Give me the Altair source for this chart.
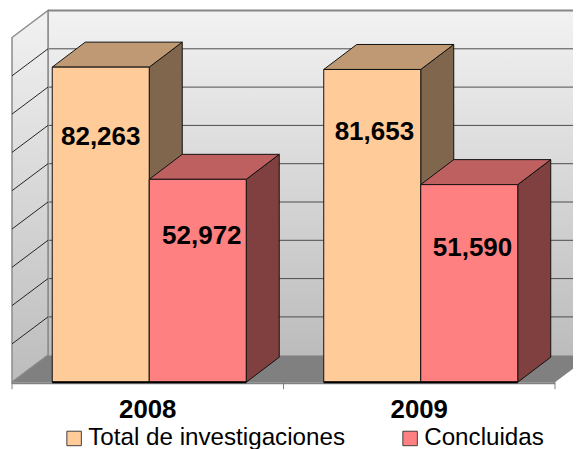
import altair as alt
import pandas as pd

years = ["2008", "2009"]
series = ["Total de investigaciones", "Concluidas"]
total_values = [82263, 81653]
concluded_values = [52972, 51590]
grid_values = [0, 10000, 20000, 30000, 40000, 50000, 60000, 70000, 80000, 90000]
# where each value label sits inside its bar, as share of bar height / shift in category units
label_height_share = {"2008": [0.778, 0.72], "2009": [0.80, 0.68]}
label_shift = {"2008": [0.0, 0.015], "2009": [0.008, 0.012]}

FONT = "Liberation Sans"
W, H = 565, 441
PX_U, PX_V = 271.5, 0.00383       # px per category, px per value
X0, Y0 = 4.0, 374.2               # plot position of the origin
xdom = [-X0 / PX_U, (W - X0) / PX_U]
ydom = [(Y0 - H) / PX_V, Y0 / PX_V]
WALL_DX, WALL_DY = 36 / PX_U, 27 / PX_V
BAR_DX, BAR_DY = 33 / PX_U, 25 / PX_V
BAR_W = 97 / PX_U
BAR_C = 0.5 + 0.0055

X = lambda f="x": alt.X(f"{f}:Q", scale=alt.Scale(domain=xdom, nice=False, zero=False), axis=None, stack=None)
Y = lambda f="y": alt.Y(f"{f}:Q", scale=alt.Scale(domain=ydom, nice=False, zero=False), axis=None, stack=None)
X2 = alt.X2("x2:Q")
Y2 = alt.Y2("y2:Q")

front_rows, side_rows, top_rows, label_rows = [], [], [], []
for i, yr in enumerate(years):
    vals = [total_values[i], concluded_values[i]]
    for j, s in enumerate(series):
        v = vals[j]
        l = i + BAR_C + (j - 1) * BAR_W
        r = l + BAR_W
        front_rows.append(dict(s=s, x=l, x2=r, y=v, y2=0))
        side_rows += [dict(s=s, k=yr, x=r, y=v, y2=0),
                      dict(s=s, k=yr, x=r + BAR_DX, y=v + BAR_DY, y2=BAR_DY)]
        top_rows += [dict(s=s, k=yr, y=v, x=l, x2=r),
                     dict(s=s, k=yr, y=v + BAR_DY, x=l + BAR_DX, x2=r + BAR_DX)]
        label_rows.append(dict(x=(l + r) / 2 + label_shift[yr][j], y=v * label_height_share[yr][j],
                               t=f"{v:,}"))
front = pd.DataFrame(front_rows)
side = pd.DataFrame(side_rows)
top = pd.DataFrame(top_rows)
labels = pd.DataFrame(label_rows)

grad = lambda a, b: alt.LinearGradient(gradient="linear",
                                       stops=[alt.GradientStop(color=a, offset=0), alt.GradientStop(color=b, offset=1)],
                                       x1=0, y1=0, x2=0, y2=1)
vmax = grid_values[-1]
back_wall = alt.Chart(pd.DataFrame([dict(x=WALL_DX, x2=xdom[1], y=WALL_DY, y2=vmax + WALL_DY)])).mark_rect(
    color=grad("#f2f2f2", "#bcbcbc"), clip=True).encode(x=X(), x2=X2, y=Y(), y2=Y2)
left_wall = alt.Chart(pd.DataFrame([dict(x=0, y=0, y2=vmax), dict(x=WALL_DX, y=WALL_DY, y2=vmax + WALL_DY)])).mark_area(
    color=grad("#f2f2f2", "#bcbcbc"), stroke="#8c8c8c", strokeWidth=1.5).encode(x=X(), y=Y(), y2=Y2)
floor = alt.Chart(pd.DataFrame([dict(y=0, x=0, x2=2.0), dict(y=WALL_DY, x=WALL_DX, x2=2.0 + WALL_DX)])).mark_area(
    orient="horizontal", color="#808080", clip=True).encode(y=Y(), x=X(), x2=X2)

grid_back = pd.DataFrame([dict(x=WALL_DX, x2=xdom[1], y=g + WALL_DY) for g in grid_values[1:]])
grid_lines = alt.Chart(grid_back[grid_back.y < vmax + WALL_DY]).mark_rule(stroke="#4d4d4d", strokeWidth=1).encode(x=X(), x2=X2, y=Y())
grid_top = alt.Chart(grid_back[grid_back.y >= vmax + WALL_DY]).mark_rule(stroke="#858585", strokeWidth=2).encode(x=X(), x2=X2, y=Y())
diag = pd.DataFrame([dict(k=g, x=a, y=g + b) for g in grid_values[1:-1] for a, b in [(0, 0), (WALL_DX, WALL_DY)]])
grid_diag = alt.Chart(diag).mark_line(stroke="#262626", strokeWidth=1).encode(x=X(), y=Y(), detail="k:N")
back_edge = alt.Chart(pd.DataFrame([dict(x=WALL_DX, y=WALL_DY, y2=vmax + WALL_DY)])).mark_rule(stroke="#8c8c8c", strokeWidth=1.5).encode(x=X(), y=Y(), y2=Y2)

axis_line = alt.Chart(pd.DataFrame([dict(x=0, x2=2, y=0)])).mark_rule(stroke="#808080", strokeWidth=2).encode(
    x=X(), x2=X2, y=alt.value(Y0 + 1))
ticks = alt.Chart(pd.DataFrame(dict(x=[0, 1, 2]))).mark_rule(stroke="#808080", strokeWidth=1).encode(
    x=X(), y=alt.value(Y0), y2=alt.value(Y0 + 7))

SIDE = {"Total de investigaciones": "#80664d", "Concluidas": "#804040"}
TOP = {"Total de investigaciones": "#bf9973", "Concluidas": "#bf6060"}
layers = [back_wall, grid_lines, grid_top, back_edge, left_wall, grid_diag, floor, axis_line, ticks]
for s in series:
    layers.append(alt.Chart(side[side.s == s]).mark_area(color=SIDE[s], stroke="#111111", strokeWidth=1, clip=True).encode(
        x=X(), y=Y(), y2=Y2, detail="k:N"))
    layers.append(alt.Chart(top[top.s == s]).mark_area(orient="horizontal", color=TOP[s], stroke="#111111", strokeWidth=1, clip=True).encode(
        y=Y(), x=X(), x2=X2, detail="k:N"))

front_faces = alt.Chart(front).mark_rect(stroke="#111111", strokeWidth=1).encode(
    x=X(), x2=X2, y=Y(), y2=Y2,
    color=alt.Color("s:N", title=None,
                    scale=alt.Scale(domain=series, range=["#ffcc99", "#ff8080"]),
                    legend=alt.Legend(orient="none", legendX=54, legendY=418, direction="horizontal", columns=2,
                                      symbolType="square", symbolSize=210, symbolStrokeColor="#404040", symbolStrokeWidth=1,
                                      labelFont=FONT, labelFontSize=24.2, labelColor="black", labelLimit=400,
                                      labelOffset=2, columnPadding=52, padding=0, symbolOffset=0)))
layers.append(front_faces)

base_line = alt.Chart(pd.DataFrame([dict(x=l, x2=r, y=0) for l, r in [(front.x.iloc[0], front.x2.iloc[1]), (front.x.iloc[2], front.x2.iloc[3])]])).mark_rule(
    stroke="black", strokeWidth=2).encode(x=X(), x2=X2, y=Y())
layers.append(base_line)

layers.append(alt.Chart(labels).mark_text(font=FONT, fontSize=26, fontWeight="bold", color="black").encode(
    x=X(), y=Y(), text="t:N"))
layers.append(alt.Chart(pd.DataFrame(dict(x=[i + 0.5 for i in range(2)], t=years))).mark_text(
    font=FONT, fontSize=25.8, fontWeight="bold", color="black").encode(x=X(), y=alt.value(Y0 + 28), text="t:N"))

chart = alt.layer(*layers).properties(
    width=W, height=H, padding=0, autosize=alt.AutoSizeParams(type="none"), background="white"
).configure_view(stroke=None)
chart.save("out.html", embed_options={"renderer": "svg", "actions": False})
